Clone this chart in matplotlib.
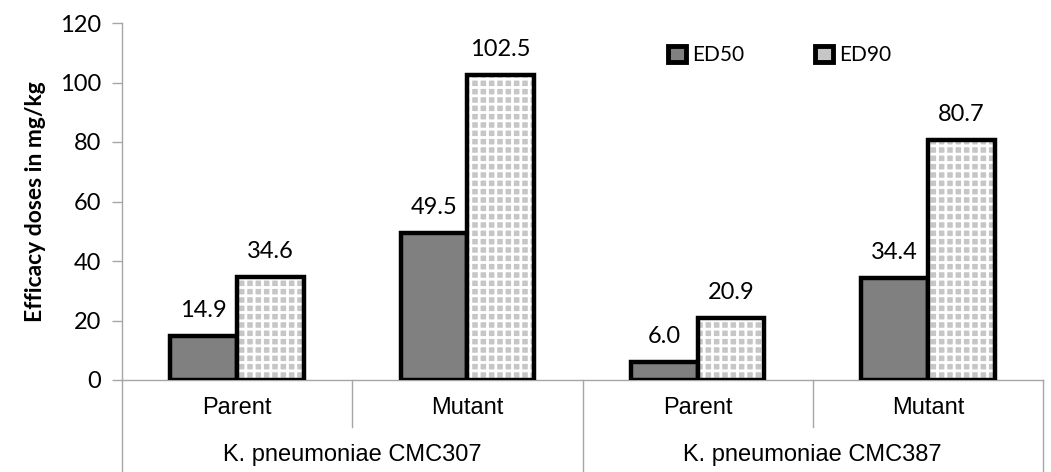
import matplotlib.pyplot as plt
import numpy as np
from matplotlib.patches import Patch

strains = ['Parent', 'Mutant', 'Parent', 'Mutant']
groups = ['K. pneumoniae CMC307', 'K. pneumoniae CMC387']
ed50 = [14.9, 49.5, 6.0, 34.4]
ed90 = [34.6, 102.5, 20.9, 80.7]

calibri = ['Lato', 'DejaVu Sans']
arial = ['Liberation Sans', 'DejaVu Sans']
grey_line = '#a6a6a6'

plt.rcParams['hatch.linewidth'] = 2.0

fig = plt.figure(figsize=(10.51, 4.72), dpi=100)
ax = fig.add_axes([122 / 1051, 92 / 472, 921 / 1051, 357 / 472])

x = np.arange(len(strains))
w = 0.29

ax.bar(x - w / 2, ed50, w, color='#808080', edgecolor='black', linewidth=3.2, zorder=3)
# patterned fill first (white hatch), then the black outline on top
ax.bar(x + w / 2, ed90, w, color='#c6c6c6', edgecolor='white', hatch='++', linewidth=0, zorder=3)
ax.bar(x + w / 2, ed90, w, fill=False, edgecolor='black', linewidth=3.2, zorder=4)

for xi, v in zip(x - w / 2, ed50):
    ax.text(xi, v + 5, f'{v:.1f}', ha='center', va='bottom', fontsize=17, family=calibri)
for xi, v in zip(x + w / 2, ed90):
    ax.text(xi, v + 5, f'{v:.1f}', ha='center', va='bottom', fontsize=17, family=calibri)

ax.set_xlim(-0.5, 3.5)
ax.set_ylim(0, 120)
ax.set_yticks(range(0, 121, 20))
ax.set_xticks([])
for lab in ax.get_yticklabels():
    lab.set_family(calibri)
    lab.set_fontsize(17)
ax.tick_params(axis='y', direction='out', length=7, color=grey_line, width=1, pad=8)

for s in ['top', 'right']:
    ax.spines[s].set_visible(False)
for s in ['left', 'bottom']:
    ax.spines[s].set_color(grey_line)
    ax.spines[s].set_linewidth(1)
ax.spines['left'].set_bounds(0, 120)

ax.set_ylabel('Efficacy doses in mg/kg', fontsize=16.5, fontweight='bold', family=calibri, labelpad=10)

# two-level category axis below the plot
tr = ax.get_xaxis_transform()
fig_bottom = -92 / 357
short_end = -47 / 357
for xb, end in [(-0.5, fig_bottom), (0.5, short_end), (1.5, fig_bottom), (2.5, short_end), (3.5, fig_bottom)]:
    ax.plot([xb, xb], [0, end], transform=tr, color=grey_line, lw=1, clip_on=False)

for xi, name in zip(x, strains):
    ax.text(xi, -28 / 357, name, transform=tr, ha='center', va='center', fontsize=17, family=arial)
for gi, name in enumerate(groups):
    ax.text(2 * gi + 0.5, -75 / 357, name, transform=tr, ha='center', va='center', fontsize=17, family=arial)

# legend
h1 = Patch(facecolor='#808080', edgecolor='black', linewidth=3.5)
h2 = Patch(facecolor='#c6c6c6', edgecolor='black', linewidth=3.5)
leg = ax.legend([h1, h2], ['ED50', 'ED90'], loc='center', bbox_to_anchor=(0.714, 0.91),
                ncol=2, frameon=False, handlelength=0.85, handleheight=0.85,
                handletextpad=0.3, columnspacing=3.4, prop={'family': calibri, 'size': 15})

fig.savefig('out.png', dpi=100)
